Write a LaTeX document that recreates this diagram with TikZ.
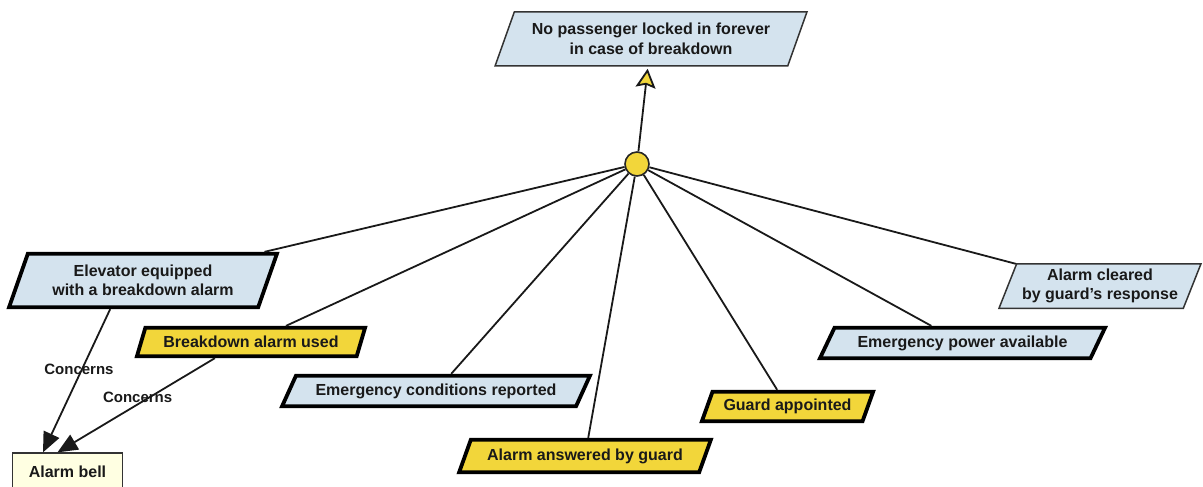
\documentclass[tikz,border=0pt]{standalone}
\usepackage{fontspec}
\setmainfont{Liberation Sans}
\usetikzlibrary{shapes.geometric,arrows.meta,calc}

\definecolor{paleblue}{RGB}{212,227,238}
\definecolor{goalyellow}{RGB}{242,214,58}
\definecolor{bellcream}{RGB}{255,255,226}
\definecolor{inkc}{RGB}{25,25,25}

\tikzset{
  pgram/.style n args={2}{trapezium, trapezium stretches=true,
    trapezium left angle=#1, trapezium right angle=#2,
    inner sep=0pt, align=center, text=inkc,
    font=\fontsize{16}{19.5}\selectfont\bfseries},
  softgoal/.style={draw=black!80, line width=1.5pt, fill=paleblue},
  bluegoal/.style={draw=black, line width=3.8pt, fill=paleblue},
  yellowgoal/.style={draw=black, line width=3.8pt, fill=goalyellow},
  agentbox/.style={rectangle, draw=black!80, line width=1.3pt, fill=bellcream,
    inner sep=0pt, text=inkc, font=\fontsize{16}{19.5}\selectfont\bfseries},
  link/.style={draw=black!90, line width=1.8pt},
  linklabel/.style={text=inkc, font=\fontsize{15}{18}\selectfont\bfseries, inner sep=0pt},
}

\begin{document}
\begin{tikzpicture}[x=1pt, y=-1pt]
\useasboundingbox (0,0) rectangle (1203,487);

% goals
\node[pgram={61.8}{118.2}, softgoal, minimum width=312pt, minimum height=54pt]
  (T) at (651,39) {No passenger locked in forever\\in case of breakdown};
\node[pgram={64.7}{115.3}, bluegoal, minimum width=268.5pt, minimum height=53.5pt]
  (E) at (143,280.5) {Elevator equipped\\with a breakdown alarm};
\node[pgram={59.3}{120.7}, yellowgoal, minimum width=228.5pt, minimum height=28.5pt]
  (B) at (251,342) {Breakdown alarm used};
\node[pgram={51.5}{128.5}, bluegoal, minimum width=308.5pt, minimum height=30.5pt]
  (C) at (436,391) {Emergency conditions reported};
\node[pgram={56.3}{123.7}, yellowgoal, minimum width=252.5pt, minimum height=32.5pt]
  (A) at (585,456) {Alarm answered by guard};
\node[pgram={58.8}{121.2}, yellowgoal, minimum width=171.5pt, minimum height=29.5pt]
  (G) at (787.5,406.5) {Guard appointed};
\node[pgram={51.5}{128.5}, bluegoal, minimum width=285.5pt, minimum height=30.5pt]
  (P) at (962.5,343) {Emergency power available};
\node[pgram={64.4}{115.6}, softgoal, minimum width=202.5pt, minimum height=44.5pt]
  (R) at (1100,286) {Alarm cleared\\by guard's response};

% agent
\node[agentbox, minimum width=110pt, minimum height=38pt] (Bell) at (67.5,472) {Alarm bell};

% refinement node
\node[circle, draw=black!85, line width=1.6pt, fill=goalyellow, minimum size=24pt, inner sep=0pt]
  (K) at (637,164) {};

% refinement links
\draw[link, -{Stealth[inset=3pt, length=19pt, width=20pt, fill=goalyellow]}, shorten >=2pt] (K) -- (T);
\foreach \g in {E,B,C,A,G,P,R} { \draw[link] (K) -- (\g); }

% concerns links
\draw[link, -{Triangle[length=20pt, width=17pt]}]
  ($(E.bottom left corner)!0.41!(E.bottom right corner)$) --
  ($(Bell.north west)!0.28!(Bell.north east)$)
  node[linklabel, pos=0.42, xshift=-3pt] {Concerns};
\draw[link, -{Triangle[length=20pt, width=17pt]}]
  ($(B.bottom left corner)!0.36!(B.bottom right corner)$) --
  ($(Bell.north west)!0.41!(Bell.north east)$)
  node[linklabel, pos=0.44, xshift=-8pt, yshift=2pt] {Concerns};
\end{tikzpicture}
\end{document}
